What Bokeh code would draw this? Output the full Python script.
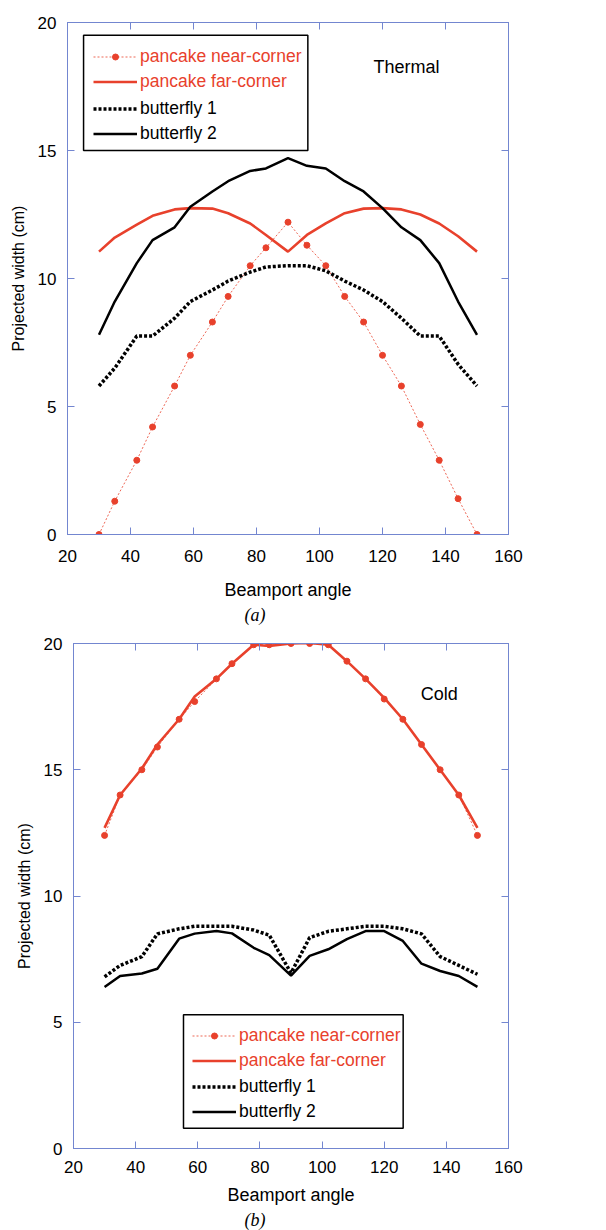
from bokeh.plotting import figure
from bokeh.models import (Range1d, LinearAxis, FixedTicker, Legend, LegendItem,
                          Label, Title, BoxAnnotation, CustomJSTickFormatter)
from bokeh.layouts import column, row
from bokeh.embed import file_html
from bokeh.resources import INLINE

# ---------------- data ----------------
angles = [30, 35, 42, 47, 54, 59, 66, 71, 78, 83, 90,
          96, 102, 108, 114, 120, 126, 132, 138, 144, 150]

thermal_near = [0.0, 1.3, 2.9, 4.2, 5.8, 7.0, 8.3, 9.3, 10.5, 11.2, 12.2,
                11.3, 10.5, 9.3, 8.3, 7.0, 5.8, 4.3, 2.9, 1.4, 0.0]
thermal_far = [11.05, 11.6, 12.1, 12.45, 12.7, 12.75, 12.73, 12.55, 12.15, 11.7, 11.05,
               11.7, 12.15, 12.55, 12.73, 12.75, 12.7, 12.5, 12.15, 11.65, 11.05]
thermal_bf1 = [5.8, 6.5, 7.75, 7.75, 8.45, 9.1, 9.55, 9.9, 10.25, 10.45, 10.5,
               10.5, 10.3, 9.9, 9.55, 9.1, 8.45, 7.75, 7.75, 6.65, 5.8]
thermal_bf2 = [7.8, 9.1, 10.6, 11.5, 12.0, 12.8, 13.4, 13.8, 14.2, 14.3, 14.7,
               14.4, 14.3, 13.8, 13.4, 12.75, 12.0, 11.5, 10.6, 9.1, 7.8]

cold_near = [12.4, 14.0, 15.0, 15.9, 17.0, 17.7, 18.6, 19.2, 19.95, 19.95, 20.0,
             20.0, 19.95, 19.3, 18.6, 17.8, 17.0, 16.0, 15.0, 14.0, 12.4]
cold_far = [12.7, 14.0, 15.05, 16.0, 17.0, 17.9, 18.6, 19.2, 19.95, 19.9, 20.0,
            20.02, 19.95, 19.3, 18.6, 17.85, 17.0, 16.0, 15.0, 14.0, 12.7]
cold_bf1 = [6.8, 7.25, 7.6, 8.5, 8.7, 8.8, 8.8, 8.8, 8.65, 8.45, 6.95,
            8.35, 8.6, 8.7, 8.8, 8.8, 8.7, 8.5, 7.6, 7.25, 6.9]
cold_bf2 = [6.4, 6.83, 6.93, 7.12, 8.31, 8.51, 8.61, 8.52, 7.95, 7.66, 6.85,
            7.63, 7.89, 8.29, 8.61, 8.61, 8.22, 7.32, 7.03, 6.83, 6.4]

x_ticks = [20, 40, 60, 80, 100, 120, 140, 160]
y_ticks = [0, 5, 10, 15, 20]
series_labels = ["pancake near-corner", "pancake far-corner", "butterfly 1", "butterfly 2"]

# ---------------- style ----------------
RED = "#e8412c"
FRAME = "#7386d0"
FONT = "Liberation Sans"
SERIF = "Liberation Serif"


def style_axis(ax, show_labels=True):
    ax.axis_line_color = FRAME
    ax.axis_line_width = 1
    ax.major_tick_line_color = FRAME
    ax.major_tick_in = 7
    ax.major_tick_out = 0
    ax.minor_tick_line_color = None
    if show_labels:
        ax.major_label_text_font = FONT
        ax.major_label_text_font_size = "17px"
        ax.major_label_text_color = "black"
        ax.axis_label_text_font = FONT
        ax.axis_label_text_font_style = "normal"
        ax.axis_label_text_color = "black"
    else:
        ax.major_label_text_font_size = "0px"
        ax.major_label_standoff = 0
        ax.formatter = CustomJSTickFormatter(code="return ''")


def make_panel(near, far, bf1, bf2, height, min_left, min_top, min_bottom,
               xtick_standoff, xlabel_standoff,
               tag, tag_offset, note, note_x, note_y,
               red_loc, black_loc, box):
    p = figure(width=568, height=height, x_range=Range1d(20, 160), y_range=Range1d(0, 20),
               output_backend="svg", toolbar_location=None,
               min_border_left=min_left, min_border_right=60,
               min_border_top=min_top, min_border_bottom=min_bottom,
               x_axis_label="Beamport angle", y_axis_label="Projected width (cm)")
    p.xgrid.visible = False
    p.ygrid.visible = False
    p.outline_line_color = FRAME
    p.background_fill_color = "white"
    p.border_fill_color = "white"

    p.xaxis.ticker = FixedTicker(ticks=x_ticks)
    p.yaxis.ticker = FixedTicker(ticks=y_ticks)
    for ax in p.xaxis + p.yaxis:
        style_axis(ax)
    p.xaxis.axis_label_text_font_size = "18px"
    p.xaxis.major_label_standoff = xtick_standoff
    p.xaxis.axis_label_standoff = xlabel_standoff
    p.yaxis.axis_label_text_font_size = "16px"
    p.yaxis.axis_label_standoff = 8
    p.yaxis.major_label_standoff = 11

    top_ax = LinearAxis(ticker=FixedTicker(ticks=x_ticks))
    right_ax = LinearAxis(ticker=FixedTicker(ticks=y_ticks))
    style_axis(top_ax, False)
    style_axis(right_ax, False)
    p.add_layout(top_ax, "above")
    p.add_layout(right_ax, "right")

    near_line = p.line(angles, near, line_color=RED, line_width=1, line_dash="2 2", line_alpha=0.8)
    near_pts = p.scatter(angles, near, marker="circle", size=6, fill_color=RED, line_color=RED)
    far_line = p.line(angles, far, line_color=RED, line_width=2.6)
    bf1_line = p.line(angles, bf1, line_color="black", line_width=3.5, line_dash="3 2")
    bf2_line = p.line(angles, bf2, line_color="black", line_width=2.5)

    # legend frame
    p.add_layout(BoxAnnotation(left=box[0], right=box[1], bottom=box[2], top=box[3],
                               fill_color="white", fill_alpha=1.0,
                               line_color="black", line_width=1.5, line_alpha=1.0))

    common = dict(label_text_font=FONT, label_text_font_size="17.5px",
                  glyph_width=44, glyph_height=15, label_height=25, spacing=0,
                  label_standoff=3, padding=0, margin=0,
                  border_line_alpha=0, background_fill_alpha=0)
    leg_red = Legend(items=[LegendItem(label=series_labels[0], renderers=[near_line, near_pts]),
                            LegendItem(label=series_labels[1], renderers=[far_line])],
                     location=red_loc, label_text_color=RED, **common)
    leg_black = Legend(items=[LegendItem(label=series_labels[2], renderers=[bf1_line]),
                              LegendItem(label=series_labels[3], renderers=[bf2_line])],
                       location=black_loc, label_text_color="black", **common)
    p.add_layout(leg_red, "center")
    p.add_layout(leg_black, "center")

    p.add_layout(Label(x=note_x, y=note_y, text=note, text_align="center",
                       text_baseline="middle", text_font=FONT, text_font_size="18px",
                       text_color="black"))

    p.add_layout(Title(text=tag, align="left", offset=tag_offset, text_font=SERIF,
                       text_font_style="italic", text_font_size="18px",
                       text_color="black", standoff=0), "below")
    return p


p1 = make_panel(thermal_near, thermal_far, thermal_bf1, thermal_bf2,
                height=628, min_left=67, min_top=22, min_bottom=94,
                xtick_standoff=15, xlabel_standoff=15,
                tag="(a)", tag_offset=177, note="Thermal", note_x=127.6, note_y=18.25,
                red_loc=(26, 440), black_loc=(26, 388), box=(25.1, 96.3, 15.0, 19.5))
p2 = make_panel(cold_near, cold_far, cold_bf1, cold_bf2,
                height=602, min_left=73, min_top=15, min_bottom=82,
                xtick_standoff=12, xlabel_standoff=9,
                tag="(b)", tag_offset=171, note="Cold", note_x=137.7, note_y=18.0,
                red_loc=(119, 75), black_loc=(119, 24), box=(55.4, 126.1, 0.8, 5.3))

layout = column(row(p1), row(p2), spacing=0)
open("out.html", "w").write(file_html(layout, INLINE))
